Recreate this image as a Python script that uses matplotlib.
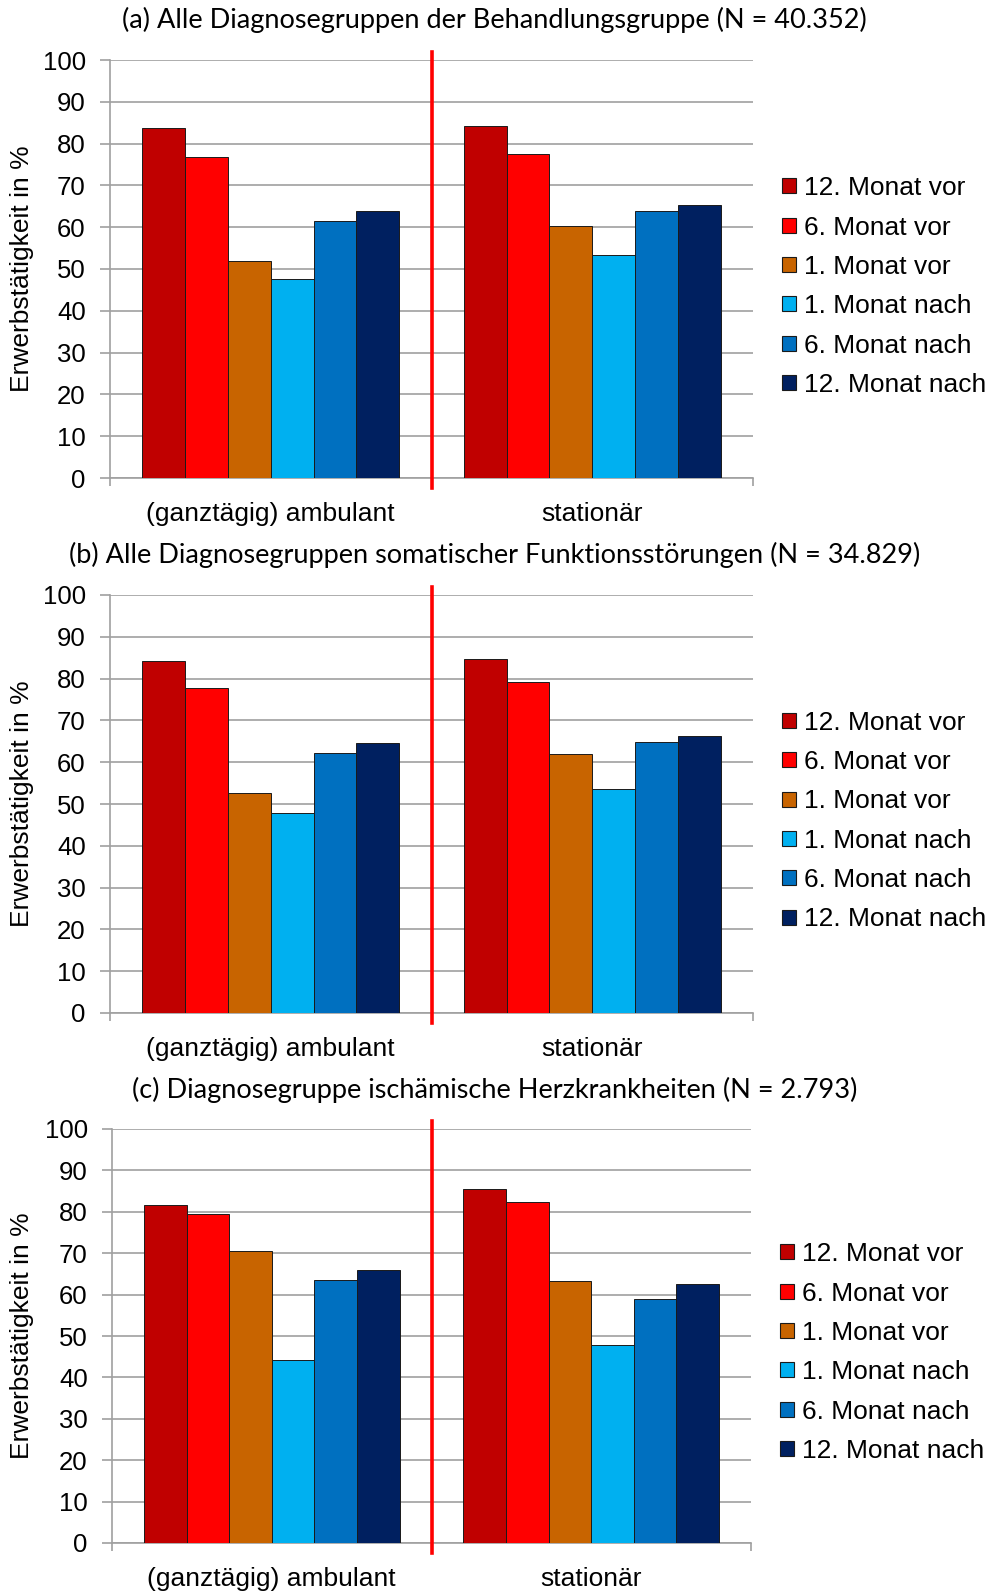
import matplotlib
matplotlib.use("Agg")
import matplotlib.pyplot as plt
from matplotlib.patches import Patch
import numpy as np

categories = ["(ganztägig) ambulant", "stationär"]
series = ["12. Monat vor", "6. Monat vor", "1. Monat vor",
          "1. Monat nach", "6. Monat nach", "12. Monat nach"]
colors = ["#C00000", "#FF0000", "#C86400", "#00B0F0", "#0070C0", "#002060"]

titles = [
    "(a) Alle Diagnosegruppen der Behandlungsgruppe (N = 40.352)",
    "(b) Alle Diagnosegruppen somatischer Funktionsstörungen (N = 34.829)",
    "(c) Diagnosegruppe ischämische Herzkrankheiten (N = 2.793)",
]

# values per series: [ambulant, stationär]
vals_a = [[83.7, 84.1], [76.9, 77.6], [51.8, 60.2], [47.5, 53.4], [61.4, 63.8], [63.9, 65.2]]
vals_b = [[84.2, 84.8], [77.8, 79.2], [52.6, 62.0], [47.9, 53.7], [62.1, 64.9], [64.5, 66.2]]
vals_c = [[81.6, 85.4], [79.4, 82.4], [70.6, 63.3], [44.1, 47.8], [63.6, 59.0], [65.9, 62.6]]
panels = [vals_a, vals_b, vals_c]

yticks = list(range(0, 101, 10))
ylabel = "Erwerbstätigkeit in %"

W, H = 989, 1592
fig = plt.figure(figsize=(W / 100, H / 100), dpi=100)

# axes placement in pixels: (left, right, y100, y0)
boxes = [(110, 753, 60, 478), (110, 753, 595, 1013), (112, 751, 1129, 1543)]
title_y = [20, 555, 1090]
legend_y = [0.458, 0.459, 0.46]

FONT = ["Liberation Sans", "Arial", "DejaVu Sans"]
grid_col = "#A0A0A0"

renderer = fig.canvas.get_renderer()

for i, (vals, box) in enumerate(zip(panels, boxes)):
    l, r, t, b = box
    ax = fig.add_axes([l / W, 1 - b / H, (r - l) / W, (b - t) / H])
    n = len(series)
    width = 0.8 / n
    x = np.arange(len(categories))
    handles = []
    for k, (name, col) in enumerate(zip(series, colors)):
        offs = -0.4 + width * (k + 0.5)
        ax.bar(x + offs, vals[k], width=width, color=col, edgecolor="#1a1a1a",
               linewidth=0.7, zorder=3)
        handles.append(Patch(facecolor=col, edgecolor="#1a1a1a", linewidth=0.8, label=name))
    ax.set_xlim(-0.5, len(categories) - 0.5)
    ax.set_ylim(0, 100)
    ax.set_yticks(yticks)
    ax.yaxis.grid(True, color=grid_col, linewidth=1.2, zorder=0)
    ax.set_axisbelow(True)
    for s in ["top", "right"]:
        ax.spines[s].set_visible(False)
    ax.spines["left"].set_color(grid_col)
    ax.spines["bottom"].set_color(grid_col)
    ax.spines["left"].set_linewidth(1.2)
    ax.spines["bottom"].set_linewidth(1.2)
    ax.set_xticks(x)
    ax.set_xticklabels(categories, fontsize=19, family=FONT)
    ax.set_xticks([-0.5, 0.5, 1.5], minor=True)
    ax.tick_params(axis="x", which="major", length=0, pad=17)
    ax.tick_params(axis="x", which="minor", length=6, color=grid_col, width=1.2)
    ax.tick_params(axis="y", length=7, color=grid_col, width=1.2, pad=10.5, labelsize=18.5)
    for lab in ax.get_yticklabels():
        lab.set_family(FONT)
    ax.set_ylabel(ylabel, fontsize=19, family=FONT)
    ax.yaxis.set_label_coords(-(l - 34) / (r - l), 0.5)
    ax.axvline(0.5, ymin=-0.024, ymax=1.02, color="#FF0000", linewidth=2.6,
               clip_on=False, zorder=5)
    ax.legend(handles=handles, loc="center left",
              bbox_to_anchor=(1.045, legend_y[i]), frameon=False,
              prop={"family": FONT, "size": 19}, handlelength=0.55,
              handleheight=0.5, handletextpad=0.3, labelspacing=0.58,
              borderpad=0, borderaxespad=0)

    fig.text(0.5, 1 - title_y[i] / H, titles[i], ha="center", va="center",
             fontsize=18, family="Lato")

# scale title font to match reference width of panel (a)
t0 = fig.texts[0]
w = t0.get_window_extent(renderer).width
fs = 18 * 744 / w
for tt in fig.texts:
    tt.set_fontsize(fs)

fig.savefig("out.png", dpi=100)
